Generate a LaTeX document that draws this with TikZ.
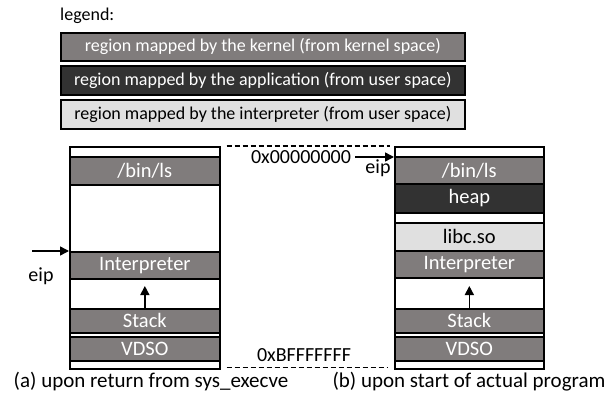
\documentclass[tikz,border=0pt]{standalone}
\usepackage{fontspec}
\setmainfont{Carlito}
\usetikzlibrary{arrows.meta}
\definecolor{kernel gray}{RGB}{128,124,124}
\definecolor{app dark}{RGB}{50,50,50}
\definecolor{interp light}{RGB}{224,224,224}

\tikzset{
	band/.style={draw, line width=1.7pt, anchor=north west, inner sep=0pt,
		font=\fontsize{20.5}{20.5}\selectfont},
	kernelband/.style={band, fill=kernel gray, text=white},
	appband/.style={band, fill=app dark, text=white},
	interpband/.style={band, fill=interp light, text=black},
	legendband/.style={font=\fontsize{18}{18}\selectfont},
	column/.style={draw, line width=1.7pt, fill=white, anchor=north west, inner sep=0pt},
	plain/.style={inner sep=0pt, font=\fontsize{20}{20}\selectfont},
	caption/.style={inner sep=0pt, font=\fontsize{21}{21}\selectfont},
	ptr/.style={line width=1.5pt, -{Triangle[length=9pt,width=9pt]}}
}

\begin{document}
\begin{tikzpicture}[x=1pt, y=-1pt]
	\useasboundingbox (0,0) rectangle (611,396);
	% part for the legend
	\node[plain, legendband, anchor=west] (legend) at (60,16) {legend:};
	\node[kernelband, legendband, minimum width=404pt, minimum height=28pt] (lgkernel) at (60,32)
		{region mapped by the kernel (from kernel space)};
	\node[appband, legendband, minimum width=404pt, minimum height=29pt] (lgapp) at (60,65)
		{region mapped by the application (from user space)};
	\node[interpband, legendband, minimum width=404pt, minimum height=29pt] (lginterp) at (60,99)
		{region mapped by the interpreter (from user space)};

	% part for (a), left column
	\node[column, minimum width=150pt, minimum height=222pt] (lcol) at (69,146) {};
	\node[kernelband, minimum width=150pt, minimum height=28pt] (lbin) at (69,156) {/bin/ls};
	\node[kernelband, minimum width=150pt, minimum height=27pt] (lint) at (69,251) {Interpreter};
	\node[kernelband, minimum width=150pt, minimum height=24pt] (lstack) at (69,308) {Stack};
	\node[kernelband, minimum width=150pt, minimum height=24pt] (lvdso) at (69,336) {VDSO};
	\coordinate (leip) at (32,251);
	\draw[ptr] (leip) -- (lint.north west);
	\node[plain] (leiplabel) at (41,276) {eip};
	\draw[ptr] (lstack.north) -- ++(0,-22);

	% part for (b), right column
	\node[column, minimum width=149pt, minimum height=222pt] (rcol) at (394,146) {};
	\node[kernelband, minimum width=149pt, minimum height=27pt] (rbin) at (394,156) {/bin/ls};
	\node[appband, minimum width=149pt, minimum height=29pt] (rheap) at (394,183) {heap};
	\node[interpband, minimum width=149pt, minimum height=28pt] (rlibc) at (394,222) {libc.so};
	\node[kernelband, minimum width=149pt, minimum height=27pt] (rint) at (394,250) {Interpreter};
	\node[kernelband, minimum width=149pt, minimum height=24pt] (rstack) at (394,308) {Stack};
	\node[kernelband, minimum width=149pt, minimum height=24pt] (rvdso) at (394,336) {VDSO};
	\coordinate (reip) at (355,157);
	\draw[ptr] (reip) -- ([yshift=-1pt]rbin.north west);
	\node[plain] (reiplabel) at (378,168) {eip};
	\draw[ptr] (rstack.north) -- ++(0,-22);

	% address range between the columns
	\draw[line width=1.3pt, dash pattern=on 5pt off 3pt]
		([xshift=6pt]lcol.north east) -- ([xshift=-4pt]rcol.north west);
	\draw[line width=1.3pt, dash pattern=on 5pt off 3pt]
		([xshift=6pt,yshift=2pt]lcol.south east) -- ([xshift=-6pt,yshift=2pt]rcol.south west);
	\node[plain] (lowaddr) at (301,157) {0x00000000};
	\node[plain] (highaddr) at (304,355) {0xBFFFFFFF};

	% captions
	\node[caption] (capa) at (151,382) {(a) upon return from sys\_execve};
	\node[caption] (capb) at (469,382) {(b) upon start of actual program};
\end{tikzpicture}
\end{document}
